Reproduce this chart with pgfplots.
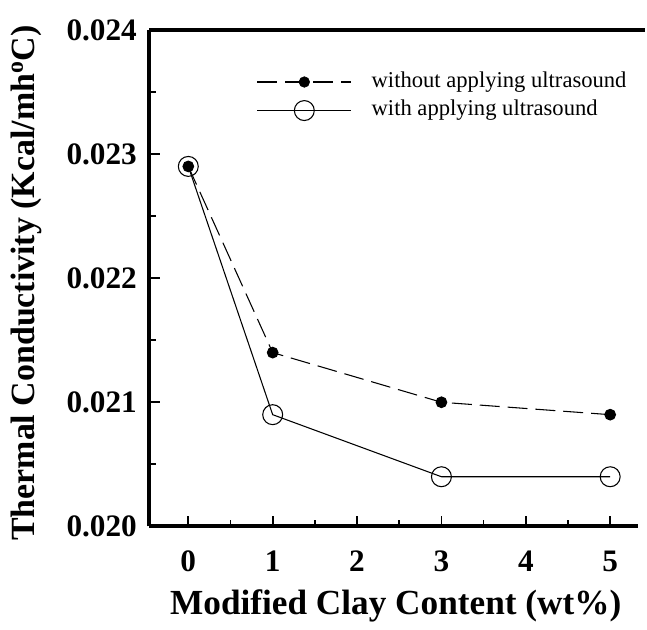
\documentclass[border=0pt]{standalone}
\usepackage{pgfplots}
\pgfplotsset{compat=1.18}
\usepackage{fontspec}
\setmainfont{Liberation Serif}
\begin{document}
\begin{tikzpicture}
\begin{axis}[
  scale only axis,
  width=367.5pt, height=373.5pt,
  xmin=-0.46, xmax=5.33,
  ymin=0.020, ymax=0.024,
  axis x line*=bottom, axis y line*=left,
  axis line style={line width=3pt},
  every outer x axis line/.append style={-},
  every outer y axis line/.append style={-},
  xtick={0,1,2,3,4,5},
  minor xtick={0.5,1.5,2.5,3.5,4.5},
  ytick={0.020,0.021,0.022,0.023,0.024},
  minor ytick={0.0205,0.0215,0.0225,0.0235},
  tick align=inside,
  major tick length=8pt, minor tick length=5pt,
  every tick/.style={black, line width=1.3pt},
  /pgf/number format/assume math mode=true,
  yticklabel style={/pgf/number format/fixed, /pgf/number format/precision=3, /pgf/number format/fixed zerofill, font=\fontsize{23.5}{23.5}\selectfont\bfseries, xshift=-6pt},
  xticklabel style={font=\fontsize{23.5}{23.5}\selectfont\bfseries, yshift=-15pt},
  scaled y ticks=false,
  ylabel={Thermal Conductivity (Kcal/mh$^{\mathbf{o}}$C)},
  xlabel={Modified Clay Content (wt\%)},
  every axis y label/.style={at={(axis description cs:-0.251,0.49)}, rotate=90, anchor=center, font=\fontsize{25.5}{25.5}\selectfont\bfseries},
  every axis x label/.style={at={(axis description cs:0.504,-0.161)}, anchor=center, font=\fontsize{26.5}{26.5}\selectfont\bfseries},
  clip=false,
]
\path (rel axis cs:-0.306,-0.2068) rectangle (rel axis cs:1.0143,1.0602);
\draw[line width=3pt] (rel axis cs:0,1) -- (rel axis cs:1.0143,1);
\addplot[black, line width=0.8pt, dash pattern=on 15pt off 6pt, mark=*, mark size=4pt, mark options={solid}] coordinates {(0,0.0229) (1,0.0214) (3,0.0210) (5,0.0209)};
\addplot[black, line width=0.8pt, mark=o, mark size=7.5pt, mark options={solid, line width=0.8pt}] coordinates {(0,0.0229) (1,0.0209) (3,0.0204) (5,0.0204)};
% legend
\addplot[black, line width=0.8pt, dash pattern=on 15pt off 6pt] coordinates {(0.82,0.02358) (1.93,0.02358)};
\addplot[black, mark=*, mark size=4pt, only marks] coordinates {(1.375,0.02358)};
\addplot[black, line width=0.8pt] coordinates {(0.82,0.02335) (1.93,0.02335)};
\addplot[black, mark=o, mark size=7.5pt, only marks, mark options={fill=white, line width=0.8pt}] coordinates {(1.375,0.02335)};
\node[anchor=west, font=\fontsize{17}{17}\selectfont, inner sep=0pt] at (axis cs:2.17,0.02358) {without applying ultrasound};
\node[anchor=west, font=\fontsize{17}{17}\selectfont, inner sep=0pt] at (axis cs:2.17,0.02335) {with applying ultrasound};
\end{axis}
\end{tikzpicture}
\end{document}
